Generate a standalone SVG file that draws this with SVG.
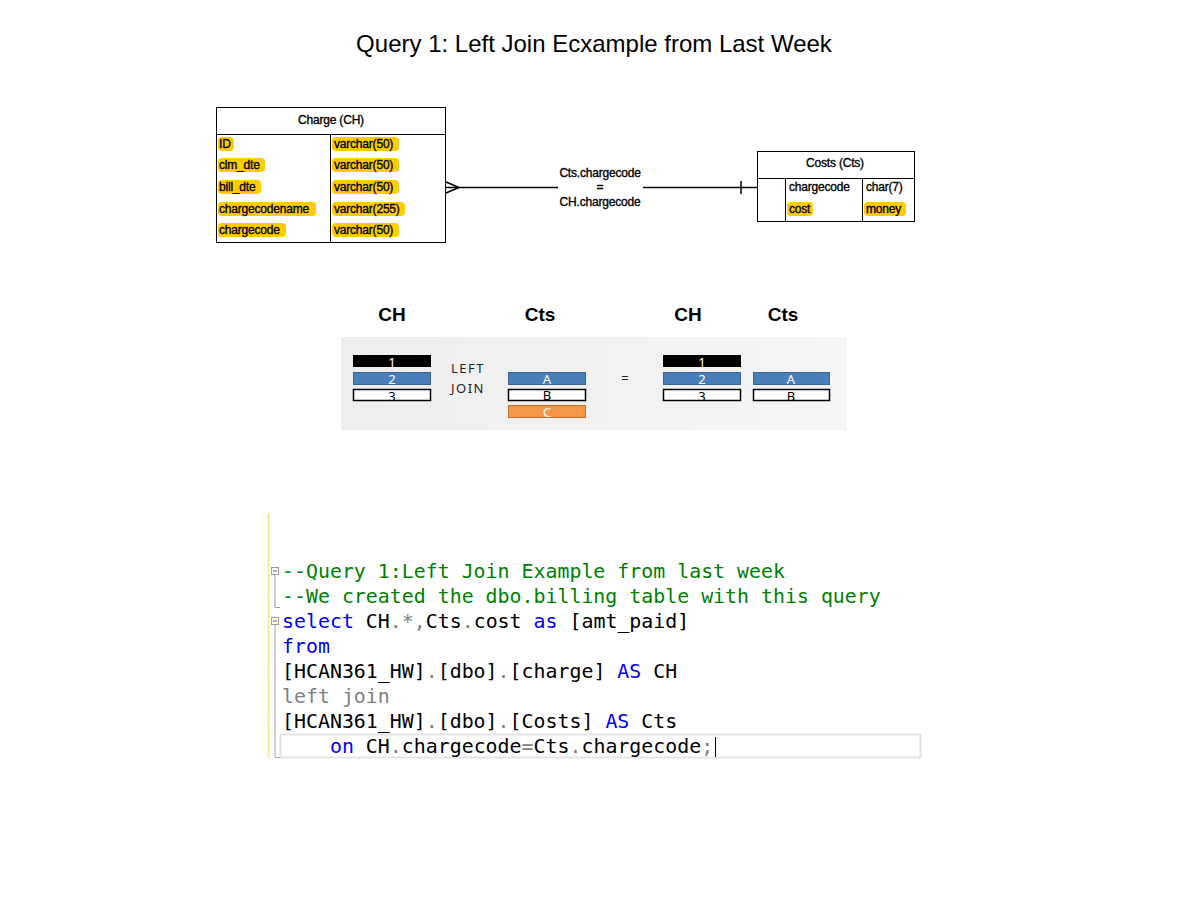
<svg xmlns="http://www.w3.org/2000/svg" width="1188" height="918" viewBox="0 0 1188 918">
<defs>
<style>
.t{font-family:"Liberation Sans",Arial,sans-serif;fill:#000}
.cell{font-family:"Liberation Sans",Arial,sans-serif;font-size:12px;letter-spacing:-0.2px;fill:#000;stroke:#000;stroke-width:0.35px}
.hl{fill:#ffcc00}
.box{fill:#fff;stroke:#000;stroke-width:1}
.ln{stroke:#000;stroke-width:1.5;fill:none}
.hd{font-family:"Liberation Sans",Arial,sans-serif;font-size:19px;font-weight:bold;fill:#000;text-anchor:middle}
.bt{font-family:"Noto Sans","Open Sans",sans-serif;font-size:13px;text-anchor:middle}
.code{font-family:"DejaVu Sans Mono","Liberation Mono",monospace;font-size:19.9px;white-space:pre}
.g{fill:#008000}.b{fill:#0000ff}.k{fill:#000}.o{fill:#808080}
</style>
<linearGradient id="bg" x1="0" x2="1" y1="0" y2="0">
<stop offset="0" stop-color="#eeeeee"/><stop offset="1" stop-color="#f5f5f5"/>
</linearGradient>
</defs>
<rect width="1188" height="918" fill="#fff"/>
<text class="t" x="594" y="52" font-size="24" text-anchor="middle">Query 1: Left Join Ecxample from Last Week</text>

<g id="charge">
<rect class="box" x="216.5" y="107.5" width="229" height="135"/>
<line x1="216" y1="134.5" x2="445" y2="134.5" stroke="#000"/>
<line x1="330.5" y1="134" x2="330.5" y2="242" stroke="#000"/>
<text class="cell" x="331" y="124" text-anchor="middle">Charge (CH)</text>
<rect class="hl" x="218" y="137" width="16" height="14" rx="4"/>
<rect class="hl" x="218" y="158" width="47" height="14" rx="4"/>
<rect class="hl" x="218" y="180" width="43" height="14" rx="4"/>
<rect class="hl" x="218" y="202" width="98" height="14" rx="4"/>
<rect class="hl" x="218" y="223" width="68" height="14" rx="4"/>
<text class="cell" x="219" y="148">ID</text>
<text class="cell" x="219" y="169">clm_dte</text>
<text class="cell" x="219" y="191">bill_dte</text>
<text class="cell" x="219" y="213">chargecodename</text>
<text class="cell" x="219" y="234">chargecode</text>
<rect class="hl" x="332" y="137" width="67" height="14" rx="4"/>
<rect class="hl" x="332" y="158" width="67" height="14" rx="4"/>
<rect class="hl" x="332" y="180" width="67" height="14" rx="4"/>
<rect class="hl" x="332" y="202" width="73" height="14" rx="4"/>
<rect class="hl" x="332" y="223" width="67" height="14" rx="4"/>
<text class="cell" x="334" y="148">varchar(50)</text>
<text class="cell" x="334" y="169">varchar(50)</text>
<text class="cell" x="334" y="191">varchar(50)</text>
<text class="cell" x="334" y="213">varchar(255)</text>
<text class="cell" x="334" y="234">varchar(50)</text>
</g>

<g id="costs">
<rect class="box" x="757.5" y="151.5" width="157" height="70"/>
<line x1="757" y1="178.5" x2="914" y2="178.5" stroke="#000"/>
<line x1="785.5" y1="178" x2="785.5" y2="221" stroke="#000"/>
<line x1="862.5" y1="178" x2="862.5" y2="221" stroke="#000"/>
<text class="cell" x="835" y="167" text-anchor="middle">Costs (Cts)</text>
<text class="cell" x="789" y="191">chargecode</text>
<text class="cell" x="866" y="191">char(7)</text>
<rect class="hl" x="787" y="202" width="26" height="14" rx="4"/>
<rect class="hl" x="864" y="202" width="42" height="14" rx="4"/>
<text class="cell" x="789" y="213">cost</text>
<text class="cell" x="866" y="213">money</text>
</g>

<g id="connectors">
<polyline class="ln" points="446,182 459,187.5 446,193"/>
<line class="ln" x1="446" y1="187.5" x2="558" y2="187.5"/>
<line class="ln" x1="643" y1="187.5" x2="757" y2="187.5"/>
<line class="ln" x1="741" y1="181" x2="741" y2="194"/>
<text class="cell" x="600" y="177" text-anchor="middle">Cts.chargecode</text>
<text class="cell" x="600" y="191" text-anchor="middle">=</text>
<text class="cell" x="600" y="206" text-anchor="middle">CH.chargecode</text>
</g>

<g id="join-illustration">
<text class="hd" x="392" y="321">CH</text>
<text class="hd" x="540" y="321">Cts</text>
<text class="hd" x="688" y="321">CH</text>
<text class="hd" x="783" y="321">Cts</text>
<rect x="341" y="337" width="506" height="93" fill="url(#bg)"/>
<rect x="353" y="355" width="78" height="12" fill="#000"/>
<text class="bt" x="392" y="367" fill="#fff">1</text>
<rect x="353.5" y="372.5" width="77" height="12" fill="#4a7ebb" stroke="#3a6596"/>
<text class="bt" x="392" y="384" fill="#fff">2</text>
<rect x="353.5" y="389.5" width="77" height="11" fill="#fff" stroke="#000" stroke-width="1.5"/>
<text class="bt" x="392" y="401" fill="#000">3</text>
<text class="bt" x="468" y="373" font-size="13" letter-spacing="1.5" fill="#222">LEFT</text>
<text class="bt" x="468" y="393" font-size="13" letter-spacing="1.5" fill="#222">JOIN</text>
<rect x="508.5" y="372.5" width="77" height="12" fill="#4a7ebb" stroke="#3a6596"/>
<text class="bt" x="547" y="384" fill="#fff">A</text>
<rect x="508.5" y="389.5" width="77" height="11" fill="#fff" stroke="#000" stroke-width="1.5"/>
<text class="bt" x="547" y="400" fill="#000">B</text>
<rect x="508.5" y="405.5" width="77" height="12" fill="#f79646" stroke="#c0702c"/>
<text class="bt" x="547" y="417" fill="#fff">C</text>
<text class="bt" x="625" y="383" fill="#222">=</text>
<rect x="663" y="355" width="78" height="12" fill="#000"/>
<text class="bt" x="702" y="367" fill="#fff">1</text>
<rect x="663.5" y="372.5" width="77" height="12" fill="#4a7ebb" stroke="#3a6596"/>
<text class="bt" x="702" y="384" fill="#fff">2</text>
<rect x="663.5" y="389.5" width="77" height="11" fill="#fff" stroke="#000" stroke-width="1.5"/>
<text class="bt" x="702" y="401" fill="#000">3</text>
<rect x="753.5" y="372.5" width="76" height="12" fill="#4a7ebb" stroke="#3a6596"/>
<text class="bt" x="791" y="384" fill="#fff">A</text>
<rect x="753.5" y="389.5" width="76" height="11" fill="#fff" stroke="#000" stroke-width="1.5"/>
<text class="bt" x="791" y="401" fill="#000">B</text>
</g>

<g id="code">
<line x1="268.5" y1="513" x2="268.5" y2="758" stroke="#f2e48a" stroke-width="1.5"/>
<rect x="280.5" y="734.5" width="640" height="23" fill="#fff" stroke="#e4e4e4" stroke-width="2"/>
<line x1="715.5" y1="737" x2="715.5" y2="757" stroke="#000"/>
<rect x="271.5" y="567.5" width="7" height="7" fill="#fff" stroke="#999"/>
<line x1="273" y1="571" x2="277" y2="571" stroke="#666"/>
<polyline points="275,575 275,607.5 280,607.5" fill="none" stroke="#a0a0a0"/>
<rect x="271.5" y="617.5" width="7" height="7" fill="#fff" stroke="#999"/>
<line x1="273" y1="621" x2="277" y2="621" stroke="#666"/>
<polyline points="275,625 275,757.5 280,757.5" fill="none" stroke="#a0a0a0"/>
<text class="code" x="282" y="578"><tspan class="g">--Query 1:Left Join Example from last week</tspan></text>
<text class="code" x="282" y="603"><tspan class="g">--We created the dbo.billing table with this query</tspan></text>
<text class="code" x="282" y="628"><tspan class="b">select</tspan><tspan class="k"> CH</tspan><tspan class="o">.*,</tspan><tspan class="k">Cts</tspan><tspan class="o">.</tspan><tspan class="k">cost </tspan><tspan class="b">as</tspan><tspan class="k"> [amt_paid]</tspan></text>
<text class="code" x="282" y="653"><tspan class="b">from</tspan></text>
<text class="code" x="282" y="678"><tspan class="k">[HCAN361_HW]</tspan><tspan class="o">.</tspan><tspan class="k">[dbo]</tspan><tspan class="o">.</tspan><tspan class="k">[charge] </tspan><tspan class="b">AS</tspan><tspan class="k"> CH</tspan></text>
<text class="code" x="282" y="703"><tspan class="o">left join</tspan></text>
<text class="code" x="282" y="728"><tspan class="k">[HCAN361_HW]</tspan><tspan class="o">.</tspan><tspan class="k">[dbo]</tspan><tspan class="o">.</tspan><tspan class="k">[Costs] </tspan><tspan class="b">AS</tspan><tspan class="k"> Cts</tspan></text>
<text class="code" x="282" y="753"><tspan class="k">    </tspan><tspan class="b">on</tspan><tspan class="k"> CH</tspan><tspan class="o">.</tspan><tspan class="k">chargecode</tspan><tspan class="o">=</tspan><tspan class="k">Cts</tspan><tspan class="o">.</tspan><tspan class="k">chargecode</tspan><tspan class="o">;</tspan></text>
</g>
</svg>
